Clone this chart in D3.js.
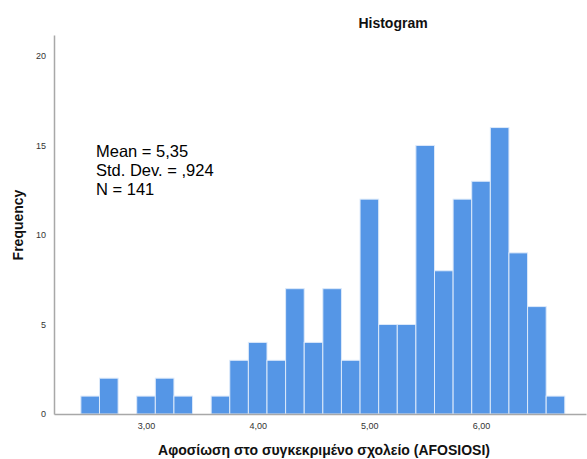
<!DOCTYPE html>
<html>
<head>
<meta charset="utf-8">
<script src="https://cdn.jsdelivr.net/npm/d3@7"></script>
<style>
  html, body { margin: 0; padding: 0; background: #fff; }
  svg { display: block; font-family: "Liberation Sans", Arial, sans-serif; }
</style>
</head>
<body>
<svg id="chart" width="587" height="459"></svg>
<script>
// Bin centres (value scale steps of 1/6) and frequencies
const binCenters = [2.5, 2.6667, 2.8333, 3.0, 3.1667, 3.3333, 3.5, 3.6667, 3.8333,
  4.0, 4.1667, 4.3333, 4.5, 4.6667, 4.8333, 5.0, 5.1667, 5.3333, 5.5, 5.6667,
  5.8333, 6.0, 6.1667, 6.3333, 6.5, 6.6667];
const frequencies = [1, 2, 0, 1, 2, 1, 0, 1, 3, 4, 3, 7, 4, 7, 3, 12, 5, 5, 15, 8,
  12, 13, 16, 9, 6, 1];
const binWidth = 1 / 6;
const xTicks = [3, 4, 5, 6];
const yTicks = [0, 5, 10, 15, 20];
const statsLines = ["Mean = 5,35", "Std. Dev. = ,924", "N = 141"];
const titleText = "Histogram";
const xTitle = "Αφοσίωση στο συγκεκριμένο σχολείο (AFOSIOSI)";
const yTitle = "Frequency";

const svg = d3.select("#chart");
const x = d3.scaleLinear().domain([2.176, 6.94]).range([54, 586]);
const y = d3.scaleLinear().domain([0, 21.17]).range([414, 35]);

// bars
svg.append("g").selectAll("rect")
  .data(binCenters.map((c, i) => ({c, f: frequencies[i]})).filter(d => d.f > 0))
  .join("rect")
  .attr("x", d => x(d.c - binWidth / 2))
  .attr("width", d => x(d.c + binWidth / 2) - x(d.c - binWidth / 2))
  .attr("y", d => y(d.f))
  .attr("height", d => y(0) - y(d.f))
  .attr("fill", "#5596e6")
  .attr("stroke", "#dce9fa")
  .attr("stroke-width", 1);

// axes
const xAxis = d3.axisBottom(x).tickValues(xTicks).tickSize(0).tickPadding(9)
  .tickFormat(d => d3.format(".2f")(d).replace(".", ","));
const gx = svg.append("g").attr("transform", `translate(0,${y(0)})`).call(xAxis);
gx.select(".domain").attr("stroke", "#a8a8a8").attr("stroke-width", 1.5);
gx.selectAll("text").attr("font-size", 9).attr("fill", "#333")
  .attr("font-family", "Liberation Sans, Arial, sans-serif");

const yAxis = d3.axisLeft(y).tickValues(yTicks).tickSize(0).tickPadding(8);
const gy = svg.append("g").attr("transform", `translate(${x.range()[0]},0)`).call(yAxis);
gy.select(".domain").attr("stroke", "#a8a8a8").attr("stroke-width", 1.5);
gy.selectAll("text").attr("font-size", 9).attr("fill", "#333")
  .attr("font-family", "Liberation Sans, Arial, sans-serif");

// title
svg.append("text").attr("x", 393).attr("y", 28).attr("text-anchor", "middle")
  .attr("font-size", 14).attr("font-weight", "bold").attr("fill", "#111").text(titleText);

// axis titles
svg.append("text").attr("x", 324).attr("y", 455).attr("text-anchor", "middle")
  .attr("font-size", 14).attr("font-weight", "bold").attr("fill", "#111").text(xTitle);
svg.append("text").attr("transform", "translate(23,225) rotate(-90)")
  .attr("text-anchor", "middle").attr("font-size", 14).attr("font-weight", "bold")
  .attr("fill", "#111").text(yTitle);

// stats
svg.append("g").selectAll("text").data(statsLines).join("text")
  .attr("x", 96).attr("y", (d, i) => 157 + i * 19)
  .attr("font-size", 16.5).attr("fill", "#000").text(d => d);
</script>
</body>
</html>
